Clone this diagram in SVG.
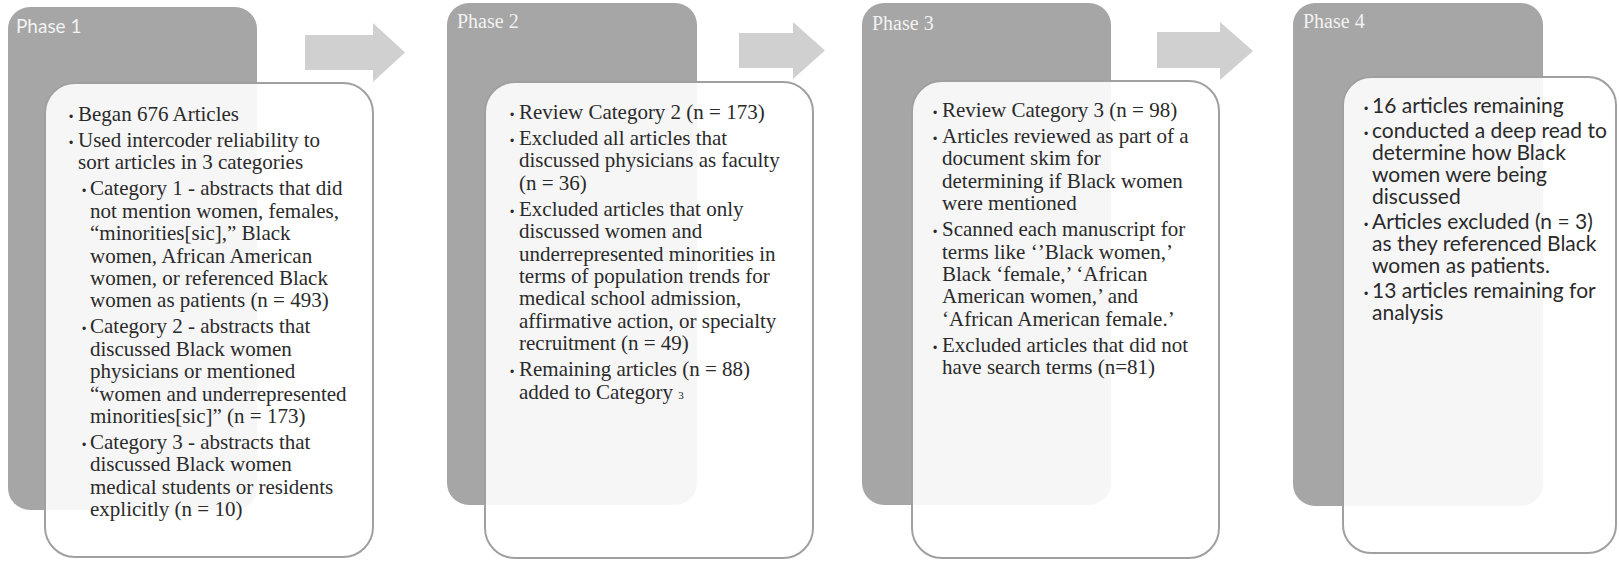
<svg xmlns="http://www.w3.org/2000/svg" width="1619" height="561" viewBox="0 0 1619 561">
<style>
.bg{fill:#ffffff}
.dark{fill:#a6a6a6}
.card{fill:#ffffff;fill-opacity:0.9;stroke:#a0a0a0;stroke-width:2}
.arrow{fill:#d0d0d0}
.t{font-family:"Liberation Serif","Times New Roman",serif;font-size:21px;fill:#2a2a2a}
.s{font-family:Lato,"Noto Sans",sans-serif;font-size:21px;fill:#2a2a2a}
.b{font-family:"Liberation Sans",Arial,sans-serif;font-size:12px;fill:#2a2a2a}
.ls{font-family:Lato,"Noto Sans",sans-serif;font-size:19px;fill:#f2f2f2}
.lt{font-family:"Liberation Serif","Times New Roman",serif;font-size:20px;fill:#f2f2f2}
</style>
<rect class="bg" x="0" y="0" width="1619" height="561"/>
<g id="connectors">
<path class="arrow" d="M305,35 H373 V23 L405,52.5 L373,82 V70 H305 Z"/>
<path class="arrow" d="M739,33 H793 V22 L825,50.5 L793,79 V68 H739 Z"/>
<path class="arrow" d="M1157,32 H1220 V22 L1253,51 L1220,80 V68 H1157 Z"/>
</g>
<g id="phase1">
<rect class="dark" x="8" y="7" width="249" height="503" rx="22"/>
<text class="ls" x="16" y="33">Phase 1</text>
<rect class="card" x="45" y="83" width="328" height="474" rx="30"/>
<text class="b" x="69" y="121">•</text><text class="t" x="78" y="121">Began 676 Articles</text>
<text class="b" x="69" y="147">•</text><text class="t" x="78" y="147">Used intercoder reliability to</text>
<text class="t" x="78" y="169.4">sort articles in 3 categories</text>
<text class="b" x="82" y="195.4">•</text><text class="t" x="90" y="195.4">Category 1 - abstracts that did</text>
<text class="t" x="90" y="217.8">not mention women, females,</text>
<text class="t" x="90" y="240.2">“minorities[sic],” Black</text>
<text class="t" x="90" y="262.6">women, African American</text>
<text class="t" x="90" y="285">women, or referenced Black</text>
<text class="t" x="90" y="307.4">women as patients (n = 493)</text>
<text class="b" x="82" y="333.4">•</text><text class="t" x="90" y="333.4">Category 2 - abstracts that</text>
<text class="t" x="90" y="355.8">discussed Black women</text>
<text class="t" x="90" y="378.2">physicians or mentioned</text>
<text class="t" x="90" y="400.6">“women and underrepresented</text>
<text class="t" x="90" y="423">minorities[sic]” (n = 173)</text>
<text class="b" x="82" y="449">•</text><text class="t" x="90" y="449">Category 3 - abstracts that</text>
<text class="t" x="90" y="471.4">discussed Black women</text>
<text class="t" x="90" y="493.8">medical students or residents</text>
<text class="t" x="90" y="516.2">explicitly (n = 10)</text>
</g>
<g id="phase2">
<rect class="dark" x="447" y="3" width="250" height="502" rx="22"/>
<text class="lt" x="457" y="28">Phase 2</text>
<rect class="card" x="485" y="82" width="328" height="476" rx="30"/>
<text class="b" x="510" y="119">•</text><text class="t" x="519" y="119">Review Category 2 (n = 173)</text>
<text class="b" x="510" y="145">•</text><text class="t" x="519" y="145">Excluded all articles that</text>
<text class="t" x="519" y="167.4">discussed physicians as faculty</text>
<text class="t" x="519" y="189.8">(n = 36)</text>
<text class="b" x="510" y="215.8">•</text><text class="t" x="519" y="215.8">Excluded articles that only</text>
<text class="t" x="519" y="238.2">discussed women and</text>
<text class="t" x="519" y="260.6">underrepresented minorities in</text>
<text class="t" x="519" y="283">terms of population trends for</text>
<text class="t" x="519" y="305.4">medical school admission,</text>
<text class="t" x="519" y="327.8">affirmative action, or specialty</text>
<text class="t" x="519" y="350.2">recruitment (n = 49)</text>
<text class="b" x="510" y="376.2">•</text><text class="t" x="519" y="376.2">Remaining articles (n = 88)</text>
<text class="t" x="519" y="398.6">added to Category <tspan font-size="11">3</tspan></text>
</g>
<g id="phase3">
<rect class="dark" x="862" y="3" width="249" height="502" rx="22"/>
<text class="lt" x="872" y="30">Phase 3</text>
<rect class="card" x="912" y="81" width="307" height="477" rx="30"/>
<text class="b" x="933" y="117">•</text><text class="t" x="942" y="117">Review Category 3 (n = 98)</text>
<text class="b" x="933" y="143">•</text><text class="t" x="942" y="143">Articles reviewed as part of a</text>
<text class="t" x="942" y="165.4">document skim for</text>
<text class="t" x="942" y="187.8">determining if Black women</text>
<text class="t" x="942" y="210.2">were mentioned</text>
<text class="b" x="933" y="236.2">•</text><text class="t" x="942" y="236.2">Scanned each manuscript for</text>
<text class="t" x="942" y="258.6">terms like ‘’Black women,’</text>
<text class="t" x="942" y="281">Black ‘female,’ ‘African</text>
<text class="t" x="942" y="303.4">American women,’ and</text>
<text class="t" x="942" y="325.8">‘African American female.’</text>
<text class="b" x="933" y="351.8">•</text><text class="t" x="942" y="351.8">Excluded articles that did not</text>
<text class="t" x="942" y="374.2">have search terms (n=81)</text>
</g>
<g id="phase4">
<rect class="dark" x="1293" y="3" width="250" height="503" rx="22"/>
<text class="lt" x="1303" y="28">Phase 4</text>
<rect class="card" x="1343" y="77" width="273" height="476" rx="28"/>
<text class="b" x="1364" y="113">•</text><text class="s" x="1372" y="113">16 articles remaining</text>
<text class="b" x="1364" y="138">•</text><text class="s" x="1372" y="138">conducted a deep read to</text>
<text class="s" x="1372" y="160">determine how Black</text>
<text class="s" x="1372" y="182">women were being</text>
<text class="s" x="1372" y="204">discussed</text>
<text class="b" x="1364" y="229">•</text><text class="s" x="1372" y="229">Articles excluded (n = 3)</text>
<text class="s" x="1372" y="251">as they referenced Black</text>
<text class="s" x="1372" y="273">women as patients.</text>
<text class="b" x="1364" y="298">•</text><text class="s" x="1372" y="298">13 articles remaining for</text>
<text class="s" x="1372" y="320">analysis</text>
</g>
</svg>
